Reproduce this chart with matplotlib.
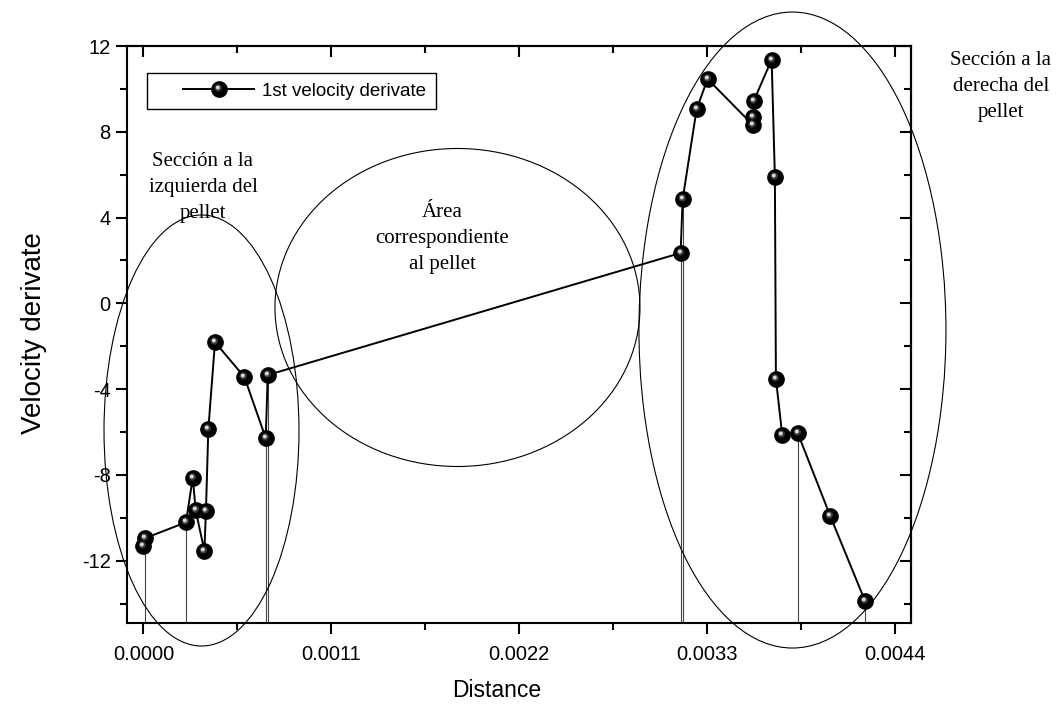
import numpy as np
import matplotlib
matplotlib.use('Agg')
import matplotlib.pyplot as plt
from matplotlib.patches import Ellipse
from matplotlib.path import Path
from matplotlib.legend_handler import HandlerTuple
from matplotlib.ticker import MultipleLocator

plt.rcParams['font.family'] = ['Liberation Sans', 'DejaVu Sans']
plt.rcParams['axes.unicode_minus'] = False

# data
distance = [0.0000, 0.0000094, 0.000249, 0.000289, 0.000306, 0.000357, 0.000366,
            0.000380, 0.000419, 0.000591, 0.000716, 0.000728,
            0.003145, 0.003157, 0.003239, 0.003303, 0.003568, 0.003570, 0.003572,
            0.003678, 0.003697, 0.003703, 0.003740, 0.003830, 0.004021, 0.004224]
vel_deriv = [-11.31, -10.95, -10.21, -8.13, -9.65, -11.54, -9.69,
             -5.87, -1.81, -3.43, -6.28, -3.34,
             2.35, 4.85, 9.06, 10.46, 8.32, 8.70, 9.42,
             11.36, 5.91, -3.51, -6.15, -6.03, -9.91, -13.86]
drop_idx = [1, 2, 10, 11, 12, 13, 23, 25]   # points with a vertical drop line

x_ticks = [0.0000, 0.0011, 0.0022, 0.0033, 0.0044]
y_ticks = [-12, -8, -4, 0, 4, 8, 12]
legend_label = '1st velocity derivate'
notes = ['Sección a la\nizquierda del\npellet',
         'Área\ncorrespondiente\nal pellet',
         'Sección a la\nderecha del\npellet']
serif = ['Liberation Serif', 'DejaVu Serif']


def spot(cx, cy, r):
    # circle path inside a unit box so the marker keeps its offset
    c = Path.circle((cx, cy), r)
    verts = np.vstack([[0.5, 0.5], c.vertices])
    codes = np.concatenate([[Path.MOVETO], c.codes])
    return Path(verts, codes)


fig = plt.figure(figsize=(10.63, 7.09), dpi=100)
ax = fig.add_axes([0.1192, 0.1217, 0.7375, 0.8134])

ymin, ymax = -14.89, 12
xs = np.array(distance)
ys = np.array(vel_deriv)
ax.vlines(xs[drop_idx], ymin, ys[drop_idx], colors='#444444', lw=0.8, zorder=1)

l_main, = ax.plot(xs, ys, '-', color='black', lw=1.4, marker='o', ms=11,
                  mfc='black', mec='black', zorder=3)
l_hl1, = ax.plot(xs, ys, ls='none', marker=spot(-0.08, 0.1, 0.24), ms=11,
                 mfc='#3a3a3a', mec='none', zorder=4)
l_hl2, = ax.plot(xs, ys, ls='none', marker=spot(-0.11, 0.13, 0.13), ms=11,
                 mfc='#d8d8d8', mec='none', zorder=5)

ax.set_xlim(-0.0000978, 0.004492)
ax.set_ylim(ymin, ymax)
ax.set_xticks(x_ticks)
ax.set_xticklabels(['%.4f' % v for v in x_ticks])
ax.set_yticks(y_ticks)
ax.xaxis.set_minor_locator(MultipleLocator(0.00055))
ax.yaxis.set_minor_locator(MultipleLocator(2))
ax.tick_params(which='major', direction='out', length=8, width=1.5, labelsize=14.5)
ax.tick_params(which='minor', direction='out', length=5, width=1.5)
ax.tick_params(axis='x', which='major', pad=8)
for s in ax.spines.values():
    s.set_linewidth(1.5)

top = ax.secondary_xaxis('top')
top.set_xticks(x_ticks)
top.xaxis.set_minor_locator(MultipleLocator(0.00055))
top.tick_params(which='major', direction='in', length=8, width=1.5, labeltop=False)
top.tick_params(which='minor', direction='in', length=5, width=1.5)
right = ax.secondary_yaxis('right')
right.set_yticks(y_ticks)
right.yaxis.set_minor_locator(MultipleLocator(2))
right.tick_params(which='major', direction='in', length=8, width=1.5, labelright=False)
right.tick_params(which='minor', direction='in', length=5, width=1.5)
for sa in (top, right):
    for s in sa.spines.values():
        s.set_linewidth(1.5)

ax.set_xlabel('Distance', fontsize=16.5, va='center')
ax.xaxis.set_label_coords(0.4723, -0.1167)
ax.set_ylabel('Velocity derivate', fontsize=20, va='center')
ax.yaxis.set_label_coords(-0.118, 0.502)

leg = ax.legend([(l_main, l_hl1, l_hl2)], [legend_label],
                handler_map={tuple: HandlerTuple(ndivide=1, xpad=1.42)},
                loc='upper left', bbox_to_anchor=(0.026, 0.953), borderaxespad=0,
                fontsize=13.5, fancybox=False, edgecolor='black', framealpha=1,
                handlelength=5.2, borderpad=0.5, handletextpad=0.45)
leg.get_frame().set_linewidth(1.0)

# annotation ellipses (axes fraction)
for (cx, cy, w, h) in [(0.0954, 0.3333, 0.2487, 0.7474),
                       (0.4219, 0.5466, 0.4656, 0.5514),
                       (0.8492, 0.5075, 0.3916, 1.1028)]:
    ax.add_patch(Ellipse((cx, cy), w, h, transform=ax.transAxes, fill=False,
                         ec='black', lw=0.8, clip_on=False, zorder=2))

for txt, (tx, ty) in zip(notes, [(0.0973, 0.7555), (0.4022, 0.6654), (1.1152, 0.9306)]):
    ax.text(tx, ty, txt, transform=ax.transAxes, ha='center', va='center',
            fontsize=15, family=serif, linespacing=1.5, clip_on=False)

fig.savefig('out.png', dpi=100)
